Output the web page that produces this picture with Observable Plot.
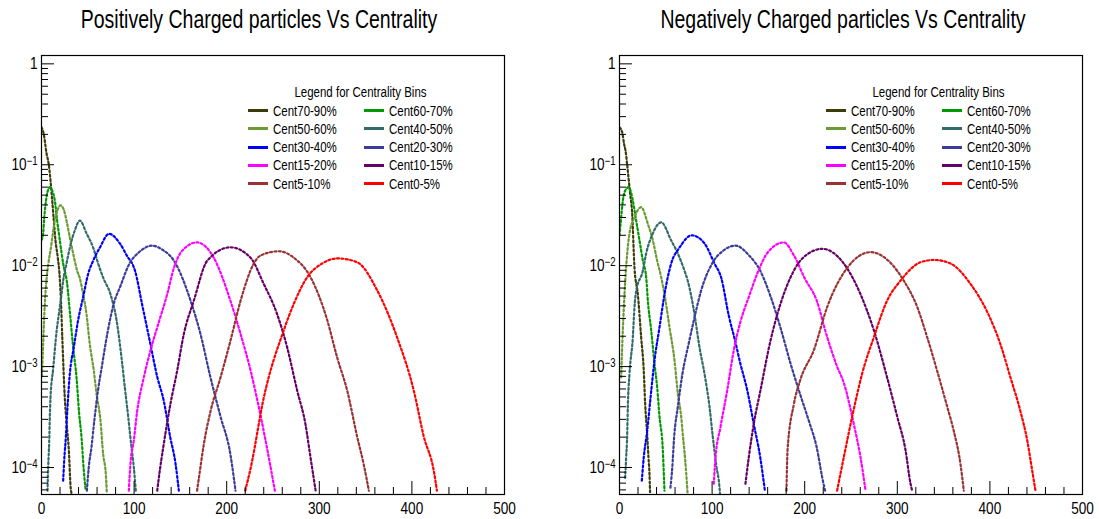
<!DOCTYPE html>
<html>
<head>
<meta charset="utf-8">
<script src="https://cdn.jsdelivr.net/npm/d3@7"></script>
<script src="https://cdn.jsdelivr.net/npm/@observablehq/plot@0.6"></script>
<style>
  body { margin: 0; background: #fff; }
  #root { position: relative; width: 1099px; height: 519px; background: #fff; overflow: hidden;
          font-family: "Liberation Sans", Arial, sans-serif; }
  .panel { position: absolute; top: 0; }
  .title { position: absolute; top: 5px; font-size: 25px; white-space: nowrap; transform: translateX(-50%) scaleX(0.78); color: #000; }
  .legend { position: absolute; top: 80px; width: 260px; height: 115px; font-size: 14px; color: #000; }
  .lhead { position: absolute; top: 4px; left: 0; width: 225px; text-align: center; transform: scaleX(0.82); }
  .litem { position: absolute; height: 18px; line-height: 18px; white-space: nowrap; }
  .lsw { position: absolute; left: 0; top: 7.5px; width: 20px; height: 3px; }
  .ltx { position: absolute; left: 25px; top: 0; transform: scaleX(0.82); transform-origin: 0 50%; }
</style>
</head>
<body>
<div id="root"></div>
<script>
// ---- categories, colours, tick labels ----
const bins = ["Cent70-90%","Cent60-70%","Cent50-60%","Cent40-50%","Cent30-40%","Cent20-30%","Cent15-20%","Cent10-15%","Cent5-10%","Cent0-5%"];
const binColors = ["#3c3c0a","#009a00","#6b9b32","#336b6b","#0000ff","#3c3c99","#ff00ff","#660066","#993333","#ff0000"];
const xMajorTicks = [0,100,200,300,400,500];
const xMinorTicks = [20,40,60,80,120,140,160,180,220,240,260,280,320,340,360,380,420,440,460,480];
const yMajorTicks = [1,0.1,0.01,0.001,0.0001];
const yTickBase = ["1","10","10","10","10"];
const yTickExp = ["","\u22121","\u22122","\u22123","\u22124"];
const yMinorTicks = [6e-5,7e-5,8e-5,9e-5,2e-4,3e-4,4e-4,5e-4,6e-4,7e-4,8e-4,9e-4,2e-3,3e-3,4e-3,5e-3,6e-3,7e-3,8e-3,9e-3,0.02,0.03,0.04,0.05,0.06,0.07,0.08,0.09,0.2,0.3,0.4,0.5,0.6,0.7,0.8,0.9];
const titles = ["Positively Charged particles Vs Centrality","Negatively Charged particles Vs Centrality"];
const legendTitle = "Legend for Centrality Bins";

// ---- Positively charged: [x, fraction] ----
const pos70_90 = [[0,0.235],[2.5,0.2],[5.4,0.13],[7.9,0.1],[9.7,0.07],[11.5,0.045],[13.3,0.028],[15.1,0.0178],[17.6,0.012],[19.4,0.0083],[21,0.0045],[22.5,0.0019],[25,0.00052],[27,0.00028],[29.5,0.00015],[31.5,0.000063],[32.5,0.000055]];
const pos60_70 = [[0,0.018],[1.8,0.021],[3,0.03],[5.4,0.048],[7,0.056],[9,0.06],[11,0.057],[14.4,0.044],[16.9,0.028],[19.8,0.0178],[23.4,0.0105],[27.7,0.0066],[30.6,0.0035],[34.2,0.00155],[37.8,0.00078],[40.7,0.00034],[43.2,0.0002],[45.7,0.000093],[47.8,0.000059]];
const pos50_60 = [[0.5,0.0008],[1.8,0.0017],[3.6,0.0042],[10.8,0.0166],[14.4,0.028],[17.5,0.036],[20.5,0.0395],[24,0.036],[27,0.028],[30.6,0.019],[34.2,0.0132],[38.5,0.0089],[41.4,0.0075],[45,0.0052],[48.6,0.0033],[52.2,0.00166],[56.5,0.00091],[59.4,0.00054],[63.7,0.00029],[66.6,0.000135],[69.5,0.000085],[70.5,0.000057]];
const pos40_50 = [[6.5,0.000059],[7.2,0.0001],[8.3,0.000178],[9,0.00032],[9.7,0.00049],[12.6,0.00095],[16.2,0.0022],[19.1,0.0035],[21.6,0.0052],[23.4,0.0071],[27,0.0105],[30.6,0.0151],[36,0.0224],[41.4,0.028],[48.6,0.0209],[55.8,0.0151],[61.2,0.0105],[66.6,0.0076],[74.5,0.0052],[81,0.0029],[86.4,0.00123],[90,0.00062],[93.6,0.00032],[97.2,0.000158],[99.7,0.0001],[101.8,0.000059]];
const pos30_40 = [[23.4,0.000074],[24.5,0.000117],[26.3,0.0002],[27.8,0.00036],[30.6,0.00085],[34.9,0.00155],[39.6,0.0029],[45,0.0049],[50.4,0.0083],[55.8,0.0112],[63,0.0151],[73,0.0207],[84.6,0.0166],[93.6,0.012],[98,0.0105],[101,0.0089],[108.5,0.0042],[117,0.00178],[125,0.00079],[132,0.00046],[139,0.0002],[144.7,0.00011],[148.3,0.000059]];
const pos20_30 = [[49,0.000059],[51,0.0001],[54,0.00016],[57,0.00029],[61,0.00058],[65,0.00098],[71,0.0021],[78,0.0042],[85,0.0062],[95,0.0105],[105,0.0135],[119.5,0.0158],[130,0.0145],[143,0.0112],[161,0.0045],[171.7,0.0021],[182.5,0.00078],[193.3,0.00032],[204,0.000135],[209.5,0.000059]];
const pos15_20 = [[94.3,0.000059],[96.1,0.00011],[99.7,0.000186],[103.3,0.00036],[110.5,0.00078],[117.7,0.00145],[125,0.00245],[135.7,0.0052],[143,0.0095],[152,0.0141],[168,0.017],[186,0.012],[204,0.0045],[215,0.0021],[226,0.0009],[236.5,0.00033],[244,0.000148],[252,0.000059]];
const pos10_15 = [[125,0.000059],[126.7,0.000079],[132,0.00017],[139.3,0.00043],[146.5,0.00091],[153.7,0.0021],[164.5,0.0045],[179,0.0112],[204,0.0152],[225.7,0.012],[240,0.0066],[254.5,0.0033],[265.3,0.00155],[276.1,0.00058],[285,0.00027],[290.5,0.000126],[296,0.000059]];
const pos5_10 = [[168,0.000059],[170,0.000079],[175.3,0.00017],[182.5,0.00036],[193.3,0.00078],[204,0.0018],[215,0.0045],[229.3,0.0105],[236.5,0.0126],[256.3,0.0139],[272.5,0.012],[290.5,0.0077],[308.5,0.0029],[319.3,0.00123],[330.1,0.00058],[341,0.0002],[348,0.000107],[353.5,0.000059]];
const pos0_5 = [[220,0.000059],[226,0.0001],[240,0.00049],[261.7,0.0023],[272.5,0.0042],[287,0.0077],[303,0.0105],[320,0.0118],[341,0.0108],[362.5,0.0057],[384,0.00195],[402,0.00058],[413,0.0002],[423.6,0.000093],[427,0.000059]];

// ---- Negatively charged: [x, fraction] ----
const neg70_90 = [[0,0.235],[2.9,0.21],[5,0.16],[6.5,0.138],[8.3,0.1],[10,0.07],[11.9,0.048],[13.5,0.035],[16.2,0.0095],[19.8,0.0052],[23.4,0.00195],[26.2,0.00091],[27.7,0.00043],[29.9,0.00021],[31.3,0.000126],[32.4,0.000085],[33,0.000057]];
const neg60_70 = [[0,0.02],[1.8,0.03],[3.6,0.044],[6,0.055],[9.7,0.06],[12,0.055],[14.4,0.044],[18,0.028],[21.6,0.0178],[25.2,0.0112],[28.8,0.0077],[30.6,0.0045],[34.2,0.0023],[37.8,0.00107],[40.7,0.00062],[43.2,0.00032],[46.8,0.000148],[47.9,0.000085],[48.6,0.000059]];
const neg50_60 = [[1.8,0.00078],[3.6,0.0023],[5.4,0.0052],[10.8,0.0209],[16.2,0.0302],[23.4,0.038],[30.6,0.026],[36,0.0178],[40.7,0.0112],[45,0.0077],[48.6,0.0052],[54,0.00245],[59.4,0.00115],[63,0.00054],[66.6,0.00032],[68.4,0.00021],[71,0.000117],[73.1,0.000063],[73.5,0.000055]];
const neg40_50 = [[6.1,0.000079],[7.2,0.000126],[8.3,0.00021],[9,0.0004],[10.8,0.00085],[14.4,0.00195],[16.2,0.0039],[18,0.0056],[25.2,0.0089],[28.8,0.0132],[36,0.0209],[45,0.0269],[55.8,0.0178],[63,0.0132],[70.2,0.0089],[73.7,0.0071],[81,0.0033],[86.4,0.00155],[91.8,0.00085],[97.2,0.0004],[100.8,0.0002],[104.4,0.000107],[108,0.000063],[108.5,0.000055]];
const neg30_40 = [[24.1,0.000074],[26.2,0.000126],[29.9,0.00023],[33.5,0.00049],[37.8,0.00115],[43.2,0.00245],[48.6,0.0052],[55.8,0.0105],[64.8,0.0151],[78,0.02],[91.8,0.0166],[102.6,0.0105],[110,0.0075],[118,0.0032],[125,0.00178],[130,0.00112],[138,0.00058],[145,0.00027],[152,0.000126],[157,0.000059]];
const neg20_30 = [[55,0.000063],[57,0.0001],[59,0.0002],[63,0.0004],[68,0.00085],[75,0.00174],[80,0.0028],[88,0.0056],[100,0.0105],[112,0.0141],[125.3,0.0158],[140,0.0126],[152,0.0089],[163,0.005],[174,0.0024],[185,0.00105],[196,0.0005],[205,0.00028],[213,0.000158],[219,0.000079],[222,0.000059]];
const neg15_20 = [[101.8,0.000069],[103.7,0.000126],[109,0.00025],[116.3,0.00058],[123.4,0.00145],[130.7,0.0028],[140,0.005],[150,0.0089],[160,0.0135],[177.4,0.017],[188,0.0128],[200,0.0075],[213,0.0045],[224,0.002],[235,0.001],[242,0.0007],[253,0.00027],[260.3,0.000126],[265.7,0.000059]];
const neg10_15 = [[136,0.000069],[139.6,0.000126],[145,0.00027],[152.2,0.00058],[163,0.0018],[173.9,0.0042],[188.2,0.0089],[209.8,0.0141],[218.9,0.0147],[242.2,0.0105],[260.3,0.0052],[274.6,0.0023],[289,0.00078],[299.9,0.00032],[308.9,0.000148],[314.3,0.000069],[316,0.000059]];
const neg5_10 = [[180.3,0.000059],[181.5,0.00015],[188.2,0.00042],[195.5,0.00075],[209.8,0.00145],[224.3,0.0039],[245.9,0.0095],[271,0.0136],[307,0.0071],[321.5,0.0039],[332.3,0.00195],[343,0.00091],[353.9,0.0004],[361,0.00023],[368.3,0.000107],[371.8,0.000059]];
const neg0_5 = [[235,0.000059],[242.2,0.000126],[251.3,0.00032],[262,0.00085],[274.6,0.00195],[289,0.0045],[303.5,0.0071],[325,0.0108],[339.5,0.0114],[357.5,0.0105],[379,0.0066],[397,0.0035],[411.4,0.00166],[422.2,0.00078],[433,0.00036],[440.3,0.000186],[445.7,0.000093],[449.2,0.000059]];

const posSeries = [pos70_90,pos60_70,pos50_60,pos40_50,pos30_40,pos20_30,pos15_20,pos10_15,pos5_10,pos0_5];
const negSeries = [neg70_90,neg60_70,neg50_60,neg40_50,neg30_40,neg20_30,neg15_20,neg10_15,neg5_10,neg0_5];

// ---- layout ----
const W = 520, H = 519, ML = 41, MR = 16, MT = 55, MB = 25;
const FW = W - ML - MR, FH = H - MT - MB;
const FONT = '"Liberation Sans", Arial, sans-serif';

function panel(series) {
  const rows = bins.flatMap((b, i) => series[i].map(([x, y]) => ({bin: b, x, y})));
  const svg = Plot.plot({
    width: W, height: H, marginLeft: ML, marginRight: MR, marginTop: MT, marginBottom: MB,
    x: {domain: [0, 500]},
    y: {type: "log", domain: [5.4e-5, 1.21]},
    color: {domain: bins, range: binColors},
    style: {fontFamily: FONT, fontSize: "17px", color: "#000", background: "transparent"},
    marks: [
      Plot.line(rows, {x: "x", y: "y", z: "bin", stroke: "bin", strokeWidth: 2.2, strokeDasharray: "2,2.4", curve: "monotone-x", clip: true}),
      Plot.ruleX(xMinorTicks, {x: d => d, insetTop: FH - 7, stroke: "#000"}),
      Plot.ruleX(xMajorTicks, {x: d => d, insetTop: FH - 13, stroke: "#000"}),
      Plot.ruleY(yMinorTicks, {y: d => d, insetRight: FW - 7, stroke: "#000"}),
      Plot.ruleY(yMajorTicks, {y: d => d, insetRight: FW - 13, stroke: "#000"}),
      Plot.frame({stroke: "#000", strokeWidth: 1.2}),
      Plot.axisX(xMajorTicks, {label: null, tickSize: 0, tickPadding: 7, tickFormat: d => String(d), fontSize: 17, fill: "#000"}),
      Plot.axisY(yMajorTicks, {label: null, tickSize: 0, tickPadding: 4, tickFormat: d => yTickBase[yMajorTicks.indexOf(d)] + "|" + yTickExp[yMajorTicks.indexOf(d)], fontSize: 17, fill: "#000"})
    ]
  });
  // ROOT-style labels: 10 with a raised exponent
  svg.querySelectorAll('g[aria-label="y-axis tick label"] text').forEach(t => {
    const [base, exp] = t.textContent.split("|");
    t.textContent = base;
    if (exp) {
      const ts = document.createElementNS("http://www.w3.org/2000/svg", "tspan");
      ts.setAttribute("dy", "-0.45em");
      ts.setAttribute("font-size", "12");
      ts.textContent = exp;
      t.appendChild(ts);
    }
  });
  // condense the tick labels horizontally, like the reference's narrow font
  svg.querySelectorAll('g[aria-label$="tick label"] text').forEach(t => {
    const tr = t.getAttribute("transform");
    if (tr) t.setAttribute("transform", tr + " scale(0.8,1)");
  });
  return svg;
}

const root = document.getElementById("root");
[posSeries, negSeries].forEach((s, k) => {
  const off = k * 578;
  const wrap = document.createElement("div");
  wrap.className = "panel";
  wrap.style.left = off + "px";
  wrap.appendChild(panel(s));
  root.appendChild(wrap);

  const t = document.createElement("div");
  t.className = "title";
  t.style.left = (259 + k * 584) + "px";
  t.textContent = titles[k];
  root.appendChild(t);

  const lg = document.createElement("div");
  lg.className = "legend";
  lg.style.left = (248 + off) + "px";
  const hd = document.createElement("div");
  hd.className = "lhead";
  hd.textContent = legendTitle;
  lg.appendChild(hd);
  bins.forEach((b, i) => {
    const it = document.createElement("div");
    it.className = "litem";
    it.style.left = (i % 2 === 0 ? 0 : 116) + "px";
    it.style.top = (21.5 + Math.floor(i / 2) * 18.3) + "px";
    const sw = document.createElement("div");
    sw.className = "lsw";
    sw.style.background = binColors[i];
    const tx = document.createElement("div");
    tx.className = "ltx";
    tx.textContent = b;
    it.appendChild(sw); it.appendChild(tx);
    lg.appendChild(it);
  });
  root.appendChild(lg);
});
</script>
</body>
</html>
